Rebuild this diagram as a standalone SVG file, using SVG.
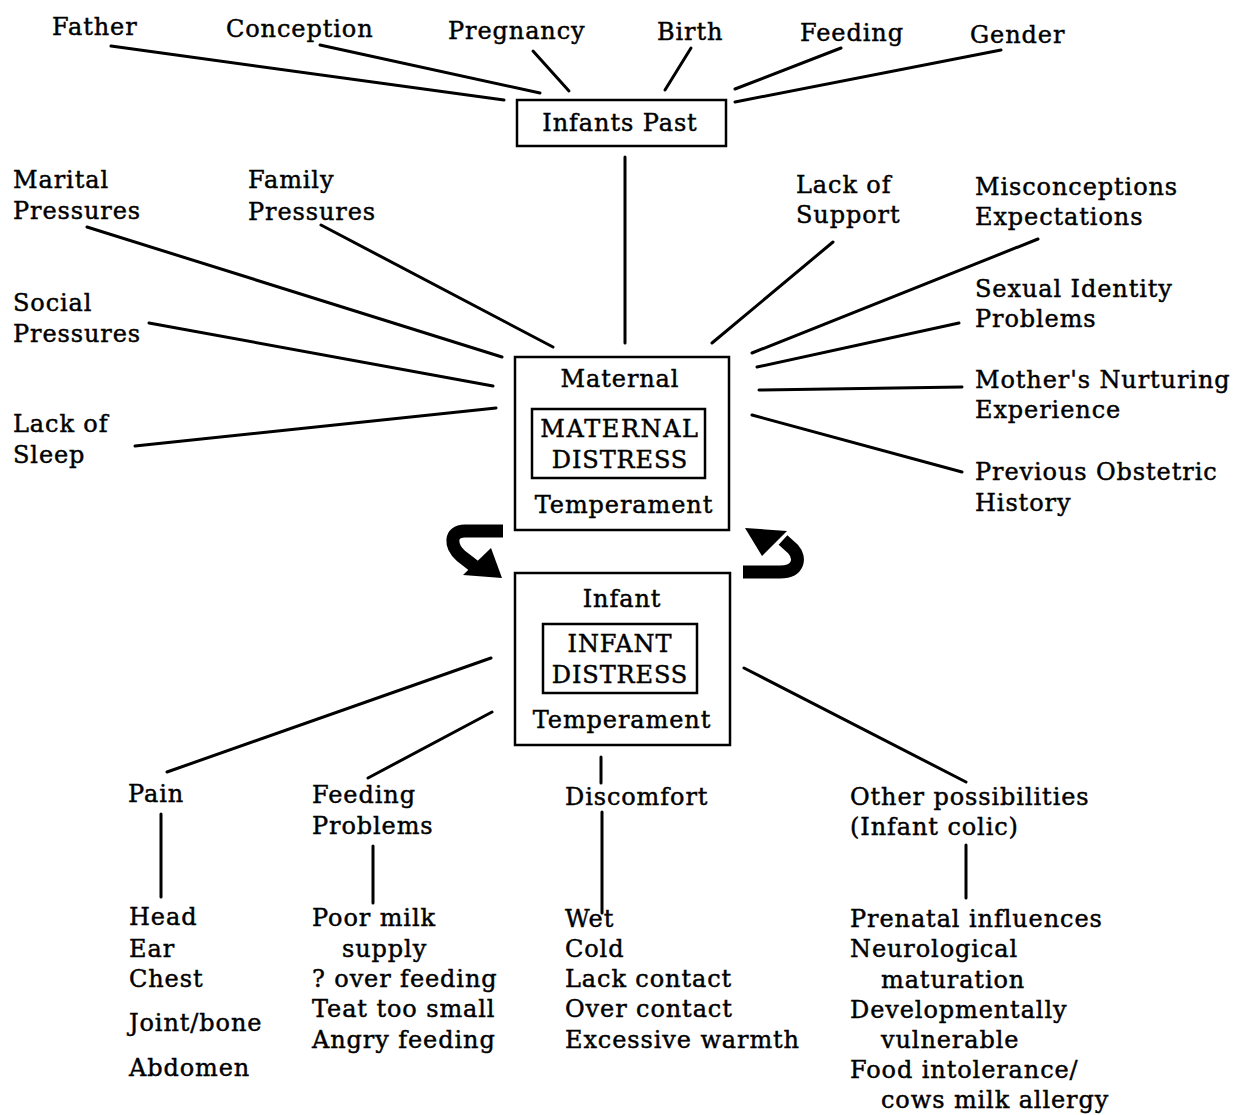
<svg xmlns="http://www.w3.org/2000/svg" width="1236" height="1115" viewBox="0 0 1236 1115">
<style>
text{font-family:"DejaVu Serif","Liberation Serif",serif;font-size:24px;letter-spacing:0.9px;fill:#000;stroke:#000;stroke-width:0.45px}
.c{text-anchor:middle}
.cap{letter-spacing:1.6px}
.ln{stroke:#000;stroke-width:3;fill:none;stroke-linecap:round}
.box{fill:none;stroke:#000;stroke-width:2.5}
.arr{fill:none;stroke:#000;stroke-width:13}
</style>
<rect width="1236" height="1115" fill="#fff"/>
<g id="connectors">
<line class="ln" x1="111" y1="46" x2="504" y2="100"/>
<line class="ln" x1="320" y1="45" x2="540" y2="93"/>
<line class="ln" x1="533" y1="51" x2="569" y2="91"/>
<line class="ln" x1="691" y1="48" x2="665" y2="90"/>
<line class="ln" x1="841" y1="48" x2="735" y2="89"/>
<line class="ln" x1="1001" y1="50" x2="735" y2="102"/>
<line class="ln" x1="625" y1="157" x2="625" y2="343"/>
<line class="ln" x1="87" y1="227" x2="502" y2="357"/>
<line class="ln" x1="321" y1="225" x2="553" y2="347"/>
<line class="ln" x1="149" y1="323" x2="493" y2="386"/>
<line class="ln" x1="135" y1="446" x2="496" y2="408"/>
<line class="ln" x1="833" y1="242" x2="712" y2="343"/>
<line class="ln" x1="1038" y1="239" x2="752" y2="353"/>
<line class="ln" x1="959" y1="323" x2="757" y2="367"/>
<line class="ln" x1="962" y1="387" x2="759" y2="390"/>
<line class="ln" x1="962" y1="472" x2="752" y2="415"/>
<line class="ln" x1="491" y1="658" x2="167" y2="772"/>
<line class="ln" x1="492" y1="712" x2="368" y2="778"/>
<line class="ln" x1="601" y1="757" x2="601" y2="783"/>
<line class="ln" x1="744" y1="668" x2="966" y2="782"/>
<line class="ln" x1="161" y1="814" x2="161" y2="897"/>
<line class="ln" x1="373" y1="846" x2="373" y2="903"/>
<line class="ln" x1="602" y1="812" x2="602" y2="913"/>
<line class="ln" x1="966" y1="845" x2="966" y2="898"/>
<path class="arr" d="M503,531 H465 C449,531 450,546 461,556 L474,566"/>
<polygon points="502,578 463,575 491,548"/>
<path class="arr" d="M743,572 H780 C799,572 801,558 793,549 L783,540"/>
<polygon points="745,528 762,556 787,531"/>
</g>
<g id="top-labels">
<text x="52" y="35">Father</text>
<text x="226" y="37">Conception</text>
<text x="448" y="39">Pregnancy</text>
<text x="657" y="40">Birth</text>
<text x="800" y="41">Feeding</text>
<text x="970" y="43">Gender</text>
</g>
<g id="infants-past">
<rect class="box" x="517" y="100" width="209" height="46"/>
<text class="c" x="620" y="131">Infants Past</text>
</g>
<g id="left-factors">
<text x="13" y="188">Marital</text><text x="13" y="219">Pressures</text>
<text x="248" y="188">Family</text><text x="248" y="220">Pressures</text>
<text x="13" y="311">Social</text><text x="13" y="342">Pressures</text>
<text x="13" y="432">Lack of</text><text x="13" y="463">Sleep</text>
</g>
<g id="right-factors">
<text x="796" y="193">Lack of</text><text x="796" y="223">Support</text>
<text x="975" y="195">Misconceptions</text><text x="975" y="225">Expectations</text>
<text x="975" y="297">Sexual Identity</text><text x="975" y="327">Problems</text>
<text x="975" y="388">Mother's Nurturing</text><text x="975" y="418">Experience</text>
<text x="975" y="480">Previous Obstetric</text><text x="975" y="511">History</text>
</g>
<g id="maternal">
<rect class="box" x="515" y="357" width="214" height="173"/>
<text class="c" x="620" y="387">Maternal</text>
<rect class="box" x="532" y="409" width="173" height="69"/>
<text class="c cap" x="620" y="437">MATERNAL</text>
<text class="c" x="620" y="468">DISTRESS</text>
<text class="c" x="624" y="513">Temperament</text>
</g>
<g id="infant">
<rect class="box" x="515" y="573" width="215" height="172"/>
<text class="c" x="622" y="607">Infant</text>
<rect class="box" x="543" y="624" width="154" height="69"/>
<text class="c" x="620" y="652">INFANT</text>
<text class="c" x="620" y="683">DISTRESS</text>
<text class="c" x="622" y="728">Temperament</text>
</g>
<g id="pain">
<text x="128" y="802">Pain</text>
<text x="129" y="925">Head</text>
<text x="129" y="957">Ear</text>
<text x="129" y="987">Chest</text>
<text x="129" y="1031">Joint/bone</text>
<text x="129" y="1076">Abdomen</text>
</g>
<g id="feeding-problems">
<text x="312" y="803">Feeding</text><text x="312" y="834">Problems</text>
<text x="312" y="926">Poor milk</text>
<text x="342" y="957">supply</text>
<text x="312" y="987">? over feeding</text>
<text x="312" y="1017">Teat too small</text>
<text x="312" y="1048">Angry feeding</text>
</g>
<g id="discomfort">
<text x="565" y="805">Discomfort</text>
<text x="565" y="927">Wet</text>
<text x="565" y="957">Cold</text>
<text x="565" y="987">Lack contact</text>
<text x="565" y="1017">Over contact</text>
<text x="565" y="1048">Excessive warmth</text>
</g>
<g id="other">
<text x="850" y="805">Other possibilities</text><text x="850" y="835">(Infant colic)</text>
<text x="850" y="927">Prenatal influences</text>
<text x="850" y="957">Neurological</text>
<text x="881" y="988">maturation</text>
<text x="850" y="1018">Developmentally</text>
<text x="881" y="1048">vulnerable</text>
<text x="850" y="1078">Food intolerance/</text>
<text x="881" y="1108">cows milk allergy</text>
</g>
</svg>
